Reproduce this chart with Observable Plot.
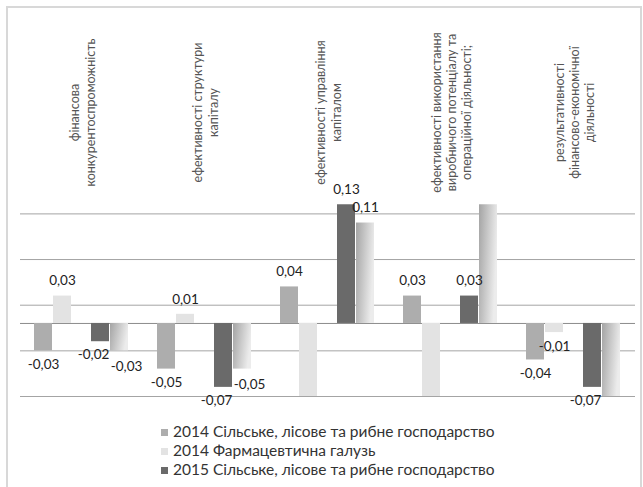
<!DOCTYPE html>
<html><head><meta charset="utf-8">
<script src="https://cdn.jsdelivr.net/npm/d3@7"></script>
<script src="https://cdn.jsdelivr.net/npm/@observablehq/plot@0.6"></script>
<style>
body{margin:0;background:#fff;width:643px;height:487px;overflow:hidden;position:relative;font-family:Lato,sans-serif}
#frame{position:absolute;left:6px;top:6px;width:632px;height:520px;border:2px solid #d8d8d8;}
#chart{position:absolute;left:0;top:0}
#legend{position:absolute;left:161px;top:422px;font-size:15.5px;color:#333;line-height:19px;white-space:nowrap}
.sw{display:inline-block;width:7px;height:7px;margin-right:5px;vertical-align:middle;position:relative;top:-1px}
</style></head><body>
<div id="frame"></div><div id="chart"></div><div id="legend"></div>
<script>
const categories = [
  "фінансова\nконкурентоспроможність",
  "ефективності структури\nкапіталу",
  "ефективності управління\nкапіталом",
  "ефективності використання\nвиробничого потенціалу та\nопераційної діяльності;",
  "результативності\nфінансово-економічної\nдіяльності"
];
const seriesNames = [
  "2014 Сільське, лісове та рибне господарство",
  "2014 Фармацевтична галузь",
  "2015 Сільське, лісове та рибне господарство",
  "2015 Фармацевтична галузь"
];
const agri2014   = [-0.03, -0.05, 0.04, 0.03, -0.04];
const pharma2014 = [ 0.03,  0.01, -0.08, -0.08, -0.01];
const agri2015   = [-0.02, -0.07, 0.13, 0.03, -0.07];
const pharma2015 = [-0.03, -0.05, 0.11, 0.13, -0.08];
// which values carry a visible data label in the original
const shown2014Agri   = [true, true, true, true, true];
const shown2014Pharma = [true, true, false, false, true];
const shown2015Agri   = [true, true, true, true, true];
const shown2015Pharma = [true, true, true, false, false];
const gridValues = [-0.08, -0.03, 0.02, 0.07, 0.12];
// the legend in the original shows only the first three entries (the fourth is cut off)
const legendCount = 3;

const values = [agri2014, pharma2014, agri2015, pharma2015];
const shown = [shown2014Agri, shown2014Pharma, shown2015Agri, shown2015Pharma];
const rows = [];
categories.forEach((c, i) => seriesNames.forEach((s, j) =>
  rows.push({cat: c, series: s, si: j, value: values[j][i], labelled: shown[j][i]})));
const slots = [seriesNames[0], seriesNames[1], "", seriesNames[2], seriesNames[3]];
const fmt = v => v.toFixed(2).replace(".", ",");
const colors = ["#adadad", "#e3e3e3", "#6a6a6a", "url(#grad4)"];

const lab = rows.filter(d => d.labelled);
const textOpts = {fx: "cat", x: "series", y: "value", text: d => fmt(d.value), fontSize: 13.5, fill: "#222"};

const plot = Plot.plot({
  width: 643, height: 412,
  marginLeft: 20, marginRight: 8, marginTop: 186, marginBottom: 16,
  style: {fontFamily: "Lato, sans-serif", background: "transparent", overflow: "visible"},
  fx: {domain: categories, padding: 0, axis: null},
  x: {domain: slots, paddingInner: 0.05, paddingOuter: 0.7, axis: null},
  y: {domain: [-0.08, 0.15], axis: null},
  color: {domain: seriesNames, range: colors},
  marks: [
    Plot.ruleY(gridValues, {stroke: "#a4a4a4", strokeWidth: 1}),
    Plot.ruleY([0], {stroke: "#8c8c8c", strokeWidth: 1}),
    Plot.barY(rows, {fx: "cat", x: "series", y: "value", fill: "series"}),
    Plot.text(lab.filter(d => d.value >= 0), {...textOpts, dy: -15}),
    Plot.text(lab.filter(d => d.value < 0 && (d.si === 0 || d.si === 1)), {...textOpts, dy: 14}),
    Plot.text(lab.filter(d => d.value < 0 && d.si === 2), {...textOpts, dy: 13, dx: -7}),
    Plot.text(lab.filter(d => d.value < 0 && d.si === 3), {...textOpts, dy: 16, dx: 7}),
    Plot.text(categories, {fx: d => d, text: d => d, frameAnchor: "top", dy: -74, rotate: -90, textAnchor: "middle", lineAnchor: "middle", lineHeight: 1.22, fontSize: 12.5, fill: "#555"})
  ]
});
const defs = d3.select(plot).insert("defs", ":first-child");
const g = defs.append("linearGradient").attr("id", "grad4")
  .attr("x1", 0).attr("y1", 0).attr("x2", 1).attr("y2", 0.3);
g.append("stop").attr("offset", "0%").attr("stop-color", "#a4a4a4");
g.append("stop").attr("offset", "45%").attr("stop-color", "#c4c4c4");
g.append("stop").attr("offset", "100%").attr("stop-color", "#ececec");
document.getElementById("chart").appendChild(plot);

const legend = d3.select("#legend");
const legendColors = ["#adadad", "#e3e3e3", "#6a6a6a", "#c4c4c4"];
seriesNames.slice(0, legendCount).forEach((s, j) => {
  const row = legend.append("div");
  row.append("span").attr("class", "sw").style("background", legendColors[j]);
  row.append("span").text(s);
});
</script></body></html>
